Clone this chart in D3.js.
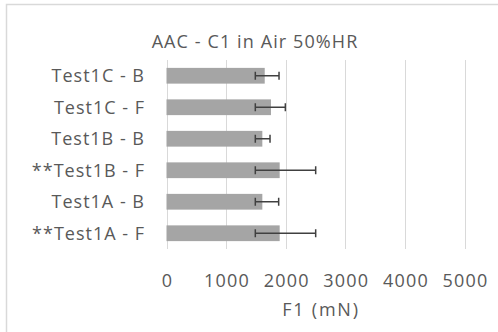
<!DOCTYPE html>
<html><head><meta charset="utf-8">
<script src="https://cdn.jsdelivr.net/npm/d3@7"></script>
<style>body{margin:0;background:#fff}svg{display:block}text{font-family:"Open Sans",sans-serif;fill:#595959}</style>
</head><body><svg id="c" width="498" height="332"></svg>
<script>
const categories = ["Test1C - B","Test1C - F","Test1B - B","**Test1B - F","Test1A - B","**Test1A - F"];
const values = [1648,1753,1608,1899,1608,1899];
const errLow = [1490,1490,1490,1490,1490,1490];
const errHigh = [1888,1994,1737,2503,1882,2503];
const ticks = [0,1000,2000,3000,4000,5000];
const title = "AAC - C1 in Air 50%HR";
const xTitle = "F1 (mN)";

const svg = d3.select("#c");
svg.append("rect").attr("x",6.5).attr("y",4.5).attr("width",520).attr("height",340)
  .attr("fill","#fff").attr("stroke","#d9d9d9").attr("stroke-width",1.5);

const x = d3.scaleLinear().domain([0,5000]).range([166.5,464.5]);
const y = d3.scaleBand().domain(categories).range([60,249]).paddingInner(0.5).paddingOuter(0.25);

const g = svg.append("g");
g.selectAll("line.grid").data(ticks).join("line").attr("class","grid")
  .attr("x1",d=>Math.round(x(d))+0.5).attr("x2",d=>Math.round(x(d))+0.5)
  .attr("y1",60).attr("y2",249).attr("stroke","#d9d9d9").attr("stroke-width",1);

g.selectAll("rect.bar").data(categories).join("rect").attr("class","bar")
  .attr("x",x(0)).attr("y",d=>y(d)).attr("height",y.bandwidth())
  .attr("width",(d,i)=>x(values[i])-x(0)).attr("fill","#a5a5a5");

const eb = g.selectAll("g.err").data(categories).join("g").attr("class","err")
  .attr("stroke","#404040").attr("stroke-width",1.5);
eb.append("line").attr("x1",(d,i)=>x(errLow[i])).attr("x2",(d,i)=>x(errHigh[i]))
  .attr("y1",d=>y(d)+y.bandwidth()/2).attr("y2",d=>y(d)+y.bandwidth()/2);
eb.append("line").attr("x1",(d,i)=>x(errLow[i])).attr("x2",(d,i)=>x(errLow[i]))
  .attr("y1",d=>y(d)+y.bandwidth()/2-4).attr("y2",d=>y(d)+y.bandwidth()/2+4);
eb.append("line").attr("x1",(d,i)=>x(errHigh[i])).attr("x2",(d,i)=>x(errHigh[i]))
  .attr("y1",d=>y(d)+y.bandwidth()/2-4).attr("y2",d=>y(d)+y.bandwidth()/2+4);

g.selectAll("text.cat").data(categories).join("text").attr("class","cat")
  .attr("x",145).attr("y",d=>y(d)+y.bandwidth()/2+6.5).attr("text-anchor","end")
  .attr("font-size",18).attr("letter-spacing",1.0).text(d=>d);

g.selectAll("text.tick").data(ticks).join("text").attr("class","tick")
  .attr("x",d=>x(d)+1).attr("y",287).attr("text-anchor","middle")
  .attr("font-size",18).attr("letter-spacing",1.2).text(d=>d);

svg.append("text").attr("x",255).attr("y",48).attr("text-anchor","middle")
  .attr("font-size",18).attr("letter-spacing",1.1).text(title);
svg.append("text").attr("x",321).attr("y",316).attr("text-anchor","middle")
  .attr("font-size",18).attr("letter-spacing",1.8).text(xTitle);
</script></body></html>
